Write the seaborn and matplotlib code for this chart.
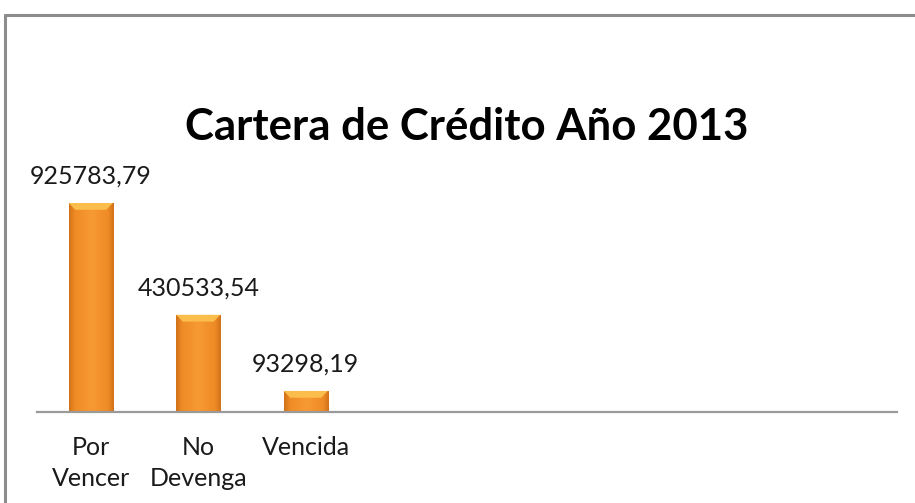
import numpy as np
import pandas as pd
import matplotlib.pyplot as plt
import matplotlib.colors as mcolors
from matplotlib.lines import Line2D
from matplotlib.patches import Polygon
import seaborn as sns

# data
categories = ["Por\nVencer", "No\nDevenga", "Vencida"]
values = [925783.79, 430533.54, 93298.19]
value_labels = ["925783,79", "430533,54", "93298,19"]
title = "Cartera de Crédito Año 2013"

sns.set_theme(style="white")
plt.rcParams["font.family"] = ["Lato", "DejaVu Sans"]

df = pd.DataFrame({"categoria": categories, "valor": values})

fig = plt.figure(figsize=(9.15, 5.03), dpi=100)
ax = fig.add_axes([37 / 915, 91 / 503, 860 / 915, 225.75 / 503])

sns.barplot(data=df, x="categoria", y="valor", color="#F5922B",
            width=0.41, saturation=1, ax=ax, zorder=2)

# orange gradient + bevel on each bar
cmap = mcolors.LinearSegmentedColormap.from_list(
    "bar", [(0, "#D27219"), (0.12, "#EE8B25"), (0.5, "#F89A33"),
            (0.88, "#EE8B25"), (1, "#D27219")])
grad = np.linspace(0, 1, 64).reshape(1, -1)
for p in ax.patches:
    x0, y0 = p.get_x(), p.get_y()
    w, h = p.get_width(), p.get_height()
    im = ax.imshow(grad, cmap=cmap, aspect="auto", zorder=3,
                   extent=(x0, x0 + w, y0, y0 + h))
    im.set_clip_path(p)
    bev = min(30000, h * 0.4)
    dx = w * 0.15
    top = Polygon([(x0, y0 + h), (x0 + w, y0 + h), (x0 + w - dx, y0 + h - bev),
                   (x0 + dx, y0 + h - bev)], closed=True,
                  facecolor="#FBBE4C", edgecolor="none", zorder=4)
    ax.add_patch(top)

ax.bar_label(ax.containers[0], labels=value_labels, padding=11,
             fontsize=18, color="#1a1a1a")

ax.set_xlim(-0.5, 7.5)
ax.set_ylim(0, 1000000)
ax.set_xlabel("")
ax.set_ylabel("")
ax.set_yticks([])
ax.tick_params(axis="x", length=0, pad=17, labelsize=18, labelcolor="#1a1a1a")
for lbl in ax.get_xticklabels():
    lbl.set_linespacing(1.45)
sns.despine(ax=ax, left=True)
ax.spines["bottom"].set_color("#9a9a9a")
ax.spines["bottom"].set_linewidth(1.6)
ax.spines["bottom"].set_zorder(5)
ax.patch.set_alpha(0)

fig.text(467 / 915, (503 - 127) / 503, title, ha="center", va="center",
         fontsize=31.5, fontweight="bold", color="black")

# chart frame (top and left edges visible in the reference)
fig.add_artist(Line2D([5 / 915, 1], [1 - 15 / 503, 1 - 15 / 503],
                      color="#8c8c8c", lw=2.2))
fig.add_artist(Line2D([5 / 915, 5 / 915], [0, 1 - 15 / 503],
                      color="#8c8c8c", lw=2.2))

fig.savefig("out.png", dpi=100, facecolor="white")
